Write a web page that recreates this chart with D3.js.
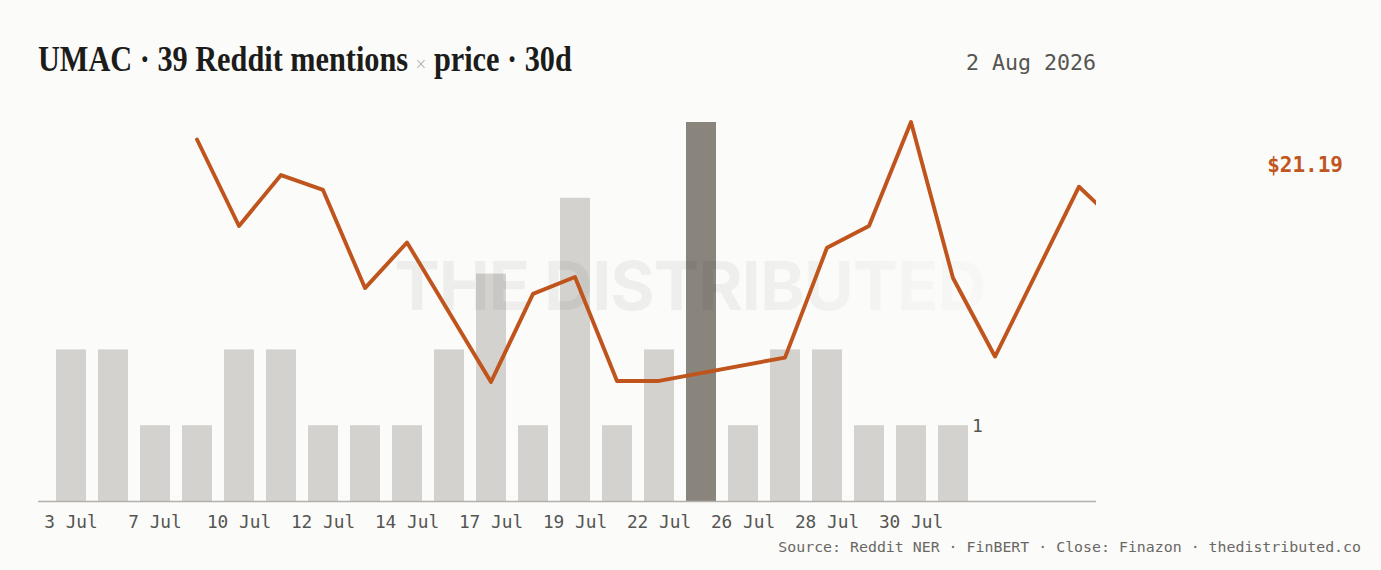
<!DOCTYPE html>
<html>
<head>
<meta charset="utf-8">
<script src="https://cdn.jsdelivr.net/npm/d3@7"></script>
<style>
  html, body { margin: 0; padding: 0; background: #fbfbf9; }
  svg { display: block; }
</style>
</head>
<body>
<div id="chart"></div>
<script>
// days on the shared band axis (mention days first, then price-only days)
var days = ["3 Jul","5 Jul","7 Jul","9 Jul","10 Jul","11 Jul","12 Jul","13 Jul","14 Jul","16 Jul",
            "17 Jul","18 Jul","19 Jul","20 Jul","22 Jul","24 Jul","26 Jul","27 Jul","28 Jul","29 Jul",
            "30 Jul","31 Jul","1 Aug","2 Aug","3 Aug","4 Aug","5 Aug"];
// reddit mentions per day (first 22 days)
var mentions = [2,2,1,1,2,2,1,1,1,2,3,1,4,1,2,5,1,2,2,1,1,1];
// daily close, null where no close
var closes = [null,null,null,21.67,20.04,21.00,20.72,18.87,19.73,null,
              17.10,18.76,19.08,17.12,17.12,null,null,17.56,19.63,20.04,
              22.00,19.06,17.58,null,20.78,20.03,21.19];
var titleText = ["UMAC \u00b7 39 Reddit mentions ", "\u00d7", " price \u00b7 30d"];
var dateText = "2 Aug 2026";
var sourceText = "Source: Reddit NER \u00b7 FinBERT \u00b7 Close: Finazon \u00b7 thedistributed.co";

var W = 1381, H = 570;
var plotLeft = 38, plotRight = 1096, plotBottom = 501, plotTop = 122;
var mono = "'DejaVu Sans Mono', 'Liberation Mono', monospace";

var svg = d3.select("#chart").append("svg")
    .attr("width", W)
    .attr("height", H);

svg.append("rect").attr("width", W).attr("height", H).attr("fill", "#fbfbf9");

var x = d3.scaleBand()
    .domain(days)
    .range([44, 1190])
    .paddingInner(2 / 7)
    .paddingOuter(2 / 7);

var yBar = d3.scaleLinear()
    .domain([0, d3.max(mentions)])
    .range([plotBottom, plotTop]);

var yPrice = d3.scaleLinear()
    .domain(d3.extent(closes.filter(c => c != null)))
    .range([382, plotTop]);

var defs = svg.append("defs");
defs.append("clipPath").attr("id", "plotClip")
  .append("rect")
    .attr("x", plotLeft).attr("y", 0)
    .attr("width", plotRight - plotLeft).attr("height", plotBottom + 2);

var grad = defs.append("linearGradient").attr("id", "wmFade")
    .attr("x1", "0%").attr("x2", "100%");
grad.append("stop").attr("offset", "0%").attr("stop-color", "#000").attr("stop-opacity", 0.055);
grad.append("stop").attr("offset", "60%").attr("stop-color", "#000").attr("stop-opacity", 0.05);
grad.append("stop").attr("offset", "100%").attr("stop-color", "#000").attr("stop-opacity", 0.015);

// title
var title = svg.append("text")
    .attr("x", plotLeft)
    .attr("y", 71)
    .attr("font-family", "'Liberation Serif', 'DejaVu Serif', serif")
    .attr("font-weight", "bold")
    .attr("font-size", 35)
    .attr("fill", "#1c1c1a");
title.append("tspan").text(titleText[0]);
title.append("tspan").text(titleText[1])
    .attr("font-weight", "normal")
    .attr("font-size", 22)
    .attr("fill", "#b9b7b2");
title.append("tspan").text(titleText[2]);
var tw = title.node().getComputedTextLength();
title.attr("transform", "translate(" + plotLeft + ",0) scale(" + (534 / tw) + ",1) translate(" + (-plotLeft) + ",0)");

svg.append("text")
    .attr("x", plotRight)
    .attr("y", 70)
    .attr("text-anchor", "end")
    .attr("font-family", mono)
    .attr("font-size", 21.6)
    .attr("fill", "#555552")
    .text(dateText);

// bars
var maxM = d3.max(mentions);
svg.append("g").selectAll("rect")
    .data(mentions)
  .enter().append("rect")
    .attr("x", (d, i) => x(days[i]))
    .attr("y", d => yBar(d))
    .attr("width", x.bandwidth())
    .attr("height", d => plotBottom - yBar(d))
    .attr("fill", d => d === maxM ? "#89847c" : "#d3d2ce");

// watermark
svg.append("text")
    .attr("x", W / 2)
    .attr("y", 310)
    .attr("text-anchor", "middle")
    .attr("font-family", "Inter, 'Liberation Sans', sans-serif")
    .attr("font-weight", "bold")
    .attr("font-size", 68)
    .attr("textLength", 592)
    .attr("lengthAdjust", "spacing")
    .attr("fill", "url(#wmFade)")
    .text("THE DISTRIBUTED");

// baseline
svg.append("line")
    .attr("x1", plotLeft).attr("x2", plotRight)
    .attr("y1", plotBottom + 0.5).attr("y2", plotBottom + 0.5)
    .attr("stroke", "#b3b1ac")
    .attr("stroke-width", 1.5);

// price line
var pts = [];
closes.forEach((c, i) => { if (c != null) pts.push({ day: days[i], close: c }); });

var line = d3.line()
    .x(d => x(d.day) + x.bandwidth() / 2)
    .y(d => yPrice(d.close));

svg.append("path")
    .datum(pts)
    .attr("clip-path", "url(#plotClip)")
    .attr("d", line)
    .attr("fill", "none")
    .attr("stroke", "#c0541d")
    .attr("stroke-width", 3.9)
    .attr("stroke-linejoin", "round")
    .attr("stroke-linecap", "round");

// last close label
var last = pts[pts.length - 1];
svg.append("text")
    .attr("x", 1343)
    .attr("y", yPrice(last.close) + 7)
    .attr("text-anchor", "end")
    .attr("font-family", mono)
    .attr("font-weight", "bold")
    .attr("font-size", 21)
    .attr("fill", "#c0561f")
    .text("$" + d3.format(".2f")(last.close));

// last mention label
var lastIdx = mentions.length - 1;
svg.append("text")
    .attr("x", x(days[lastIdx]) + x.bandwidth() + 4)
    .attr("y", yBar(mentions[lastIdx]) + 7)
    .attr("font-family", mono)
    .attr("font-size", 18)
    .attr("fill", "#555552")
    .text(mentions[lastIdx]);

// x axis labels, every other mention day
var tickDays = days.slice(0, mentions.length).filter((d, i) => i % 2 === 0);
var xAxis = svg.append("g")
    .attr("transform", "translate(0," + plotBottom + ")")
    .call(d3.axisBottom(x).tickValues(tickDays).tickSize(0).tickPadding(14));
xAxis.select(".domain").remove();
xAxis.selectAll("text")
    .attr("font-family", mono)
    .attr("font-size", 17.8)
    .attr("fill", "#555552");

svg.append("text")
    .attr("x", 1361)
    .attr("y", 552)
    .attr("text-anchor", "end")
    .attr("font-family", mono)
    .attr("font-size", 14.9)
    .attr("fill", "#6a6864")
    .text(sourceText);
</script>
</body>
</html>
